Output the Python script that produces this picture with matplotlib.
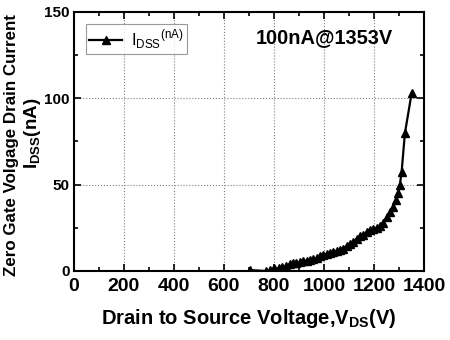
import matplotlib
matplotlib.use('Agg')
import matplotlib.pyplot as plt
from matplotlib.ticker import MultipleLocator

plt.rcParams['font.family'] = ['Liberation Sans', 'DejaVu Sans']
plt.rcParams['mathtext.fontset'] = 'custom'
plt.rcParams['mathtext.rm'] = 'Liberation Sans'
plt.rcParams['mathtext.bf'] = 'Liberation Sans:bold'

# Leakage current vs drain-source voltage
vds = [704, 770, 786, 800, 820, 833, 848, 864, 877, 890, 904, 918, 931, 944,
       958, 971, 984, 997, 1011, 1024, 1037, 1051, 1064, 1078, 1091, 1104,
       1117, 1131, 1144, 1157, 1171, 1184, 1197, 1211, 1224, 1237, 1251, 1264,
       1277, 1290, 1297, 1304, 1311, 1324, 1351]
idss = [0.5, 0, 0.5, 1.5, 1.5, 2.5, 3, 4, 4.5, 4.5, 5, 5.5, 6, 6.5,
        7, 7.3, 8.5, 9.3, 10, 10.2, 11, 11.7, 12, 13, 14.5, 15.5,
        17, 18.5, 20, 21, 22.5, 23.7, 24.5, 25, 26, 28, 31, 34,
        37, 41, 45, 50, 57.5, 79.7, 103]

fig = plt.figure(figsize=(4.5, 3.4), dpi=100)
ax = fig.add_axes([0.164, 0.203, 0.778, 0.762])

ax.plot(vds, idss, '-^', color='black', lw=1.6, markersize=5.5,
        label=r'I$_{\mathregular{DSS}}$$^{\mathregular{(nA)}}$')

ax.set_xlim(0, 1400)
ax.set_ylim(0, 150)
ax.xaxis.set_major_locator(MultipleLocator(200))
ax.xaxis.set_minor_locator(MultipleLocator(100))
ax.yaxis.set_major_locator(MultipleLocator(50))
ax.yaxis.set_minor_locator(MultipleLocator(25))
ax.tick_params(which='both', direction='in', top=True, right=True, width=1.2)
ax.tick_params(which='major', length=5)
ax.tick_params(which='minor', length=3)
ax.tick_params(axis='x', labelsize=14, pad=5)
ax.tick_params(axis='y', labelsize=11, pad=3)
for lab in ax.get_xticklabels() + ax.get_yticklabels():
    lab.set_fontweight('bold')
for sp in ax.spines.values():
    sp.set_linewidth(1.5)
ax.grid(True, which='major', ls=':', color='gray', lw=0.8)

leg = ax.legend(loc='upper left', fontsize=12, fancybox=False, edgecolor='gray',
                handlelength=2.0, borderpad=0.2, handletextpad=0.5,
                bbox_to_anchor=(0.01, 0.985))
leg.get_frame().set_linewidth(0.8)

ax.text(0.717, 0.90, '100nA@1353V', transform=ax.transAxes, ha='center',
        va='center', fontsize=14.4, fontweight='bold')

ax.set_xlabel(r'Drain to Source Voltage,V$_{\mathbf{DS}}$(V)', fontsize=14.5,
              fontweight='bold', labelpad=9)
fig.text(0.026, 0.574, 'Zero Gate Volgage Drain Current', rotation=90,
         ha='center', va='center', fontsize=12.2, fontweight='bold')
fig.text(0.073, 0.609, r'I$_{\mathbf{DSS}}$(nA)', rotation=90,
         ha='center', va='center', fontsize=13.5, fontweight='bold')

fig.savefig('out.png', dpi=100)
